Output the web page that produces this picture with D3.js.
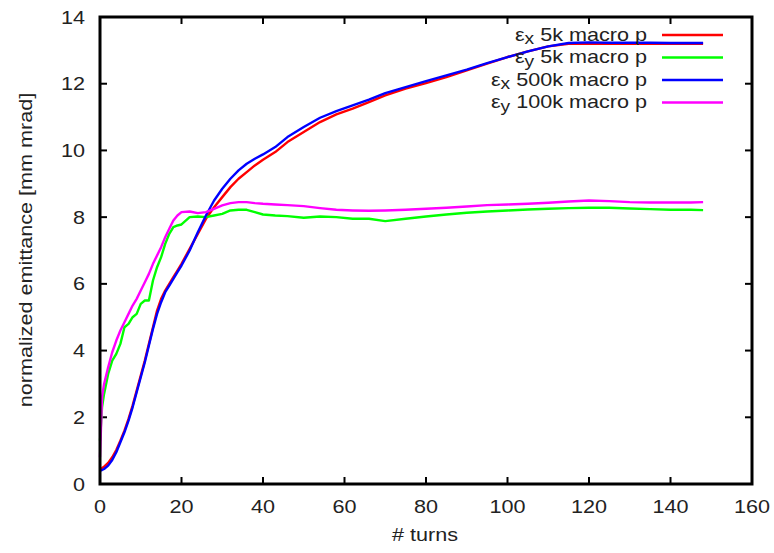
<!DOCTYPE html>
<html><head><meta charset="utf-8">
<script src="https://cdn.jsdelivr.net/npm/d3@7"></script>
<style>body{margin:0;background:#fff}svg{display:block}text{font-family:"Liberation Sans",Arial,sans-serif;fill:#222}</style>
</head><body><svg id="c" width="774" height="553"></svg>
<script>
const turns = [0,0.5,1,2,3,4,5,6,7,8,9,10,11,12,13,14,15,16,17,18,19,20,22,24,26,28,30,32,34,36,38,40,43,46,50,54,58,62,66,70,75,80,85,90,95,100,105,110,115,120,125,130,135,140,145,148];
const epsX5k = [0.45,0.48,0.52,0.63,0.8,1.02,1.3,1.6,1.95,2.35,2.8,3.25,3.7,4.2,4.7,5.2,5.55,5.8,6.0,6.2,6.4,6.6,7.05,7.5,7.95,8.3,8.6,8.9,9.15,9.35,9.55,9.72,9.95,10.25,10.55,10.85,11.08,11.25,11.45,11.65,11.85,12.02,12.2,12.4,12.6,12.8,12.97,13.12,13.2,13.2,13.2,13.2,13.2,13.2,13.2,13.2];
const epsY5k = [1.3,2.3,2.7,3.3,3.7,3.9,4.2,4.7,4.8,5.0,5.1,5.4,5.5,5.5,6.1,6.5,6.8,7.2,7.5,7.7,7.75,7.78,8.0,8.02,8.0,8.05,8.1,8.2,8.22,8.22,8.15,8.08,8.05,8.03,7.98,8.02,8.0,7.95,7.95,7.88,7.95,8.02,8.08,8.13,8.17,8.2,8.23,8.25,8.27,8.28,8.28,8.26,8.24,8.22,8.22,8.21];
const epsX500k = [0.4,0.42,0.45,0.55,0.72,0.95,1.25,1.55,1.9,2.3,2.75,3.2,3.65,4.15,4.65,5.1,5.45,5.75,5.95,6.15,6.35,6.55,7.0,7.55,8.05,8.5,8.85,9.15,9.4,9.6,9.75,9.88,10.1,10.4,10.7,10.98,11.18,11.35,11.52,11.72,11.9,12.08,12.25,12.42,12.62,12.8,12.97,13.12,13.22,13.24,13.23,13.23,13.23,13.22,13.22,13.22];
const epsY100k = [0.8,2.6,3.0,3.5,3.95,4.3,4.6,4.85,5.1,5.35,5.55,5.8,6.05,6.3,6.6,6.85,7.1,7.4,7.65,7.9,8.05,8.15,8.17,8.12,8.15,8.25,8.35,8.42,8.45,8.45,8.42,8.4,8.38,8.36,8.33,8.27,8.22,8.2,8.19,8.2,8.22,8.25,8.28,8.32,8.36,8.38,8.4,8.43,8.47,8.5,8.48,8.45,8.44,8.44,8.44,8.45];
const xTicks = [0,20,40,60,80,100,120,140,160];
const yTicks = [0,2,4,6,8,10,12,14];
const seriesNames = [["x"," 5k macro p"],["y"," 5k macro p"],["x"," 500k macro p"],["y"," 100k macro p"]];
const seriesColors = ["#ff0000","#00ff00","#0000ff","#ff00ff"];
const seriesData = [epsX5k, epsY5k, epsX500k, epsY100k];

const svg = d3.select("#c");
const L=100,R=752,T=17,B=484;
const FS=18, SX=1.2;
const x = d3.scaleLinear().domain([0,160]).range([L,R]);
const y = d3.scaleLinear().domain([0,14]).range([B,T]);
const tl=7;
function label(px,py,anchor,str,rot){
  const gg = svg.append("g").attr("transform",`translate(${px},${py})`+(rot?` rotate(${rot})`:"")+` scale(${SX},1)`);
  return gg.append("text").attr("text-anchor",anchor).attr("font-size",FS).text(str);
}
const g = svg.append("g");
xTicks.forEach(t=>{
  g.append("line").attr("x1",x(t)).attr("x2",x(t)).attr("y1",B).attr("y2",B-tl).attr("stroke","#000").attr("stroke-width",2);
  g.append("line").attr("x1",x(t)).attr("x2",x(t)).attr("y1",T).attr("y2",T+tl).attr("stroke","#000").attr("stroke-width",2);
  label(x(t),B+29,"middle",t);
});
yTicks.forEach(t=>{
  g.append("line").attr("x1",L).attr("x2",L+tl).attr("y1",y(t)).attr("y2",y(t)).attr("stroke","#000").attr("stroke-width",2);
  g.append("line").attr("x1",R).attr("x2",R-tl).attr("y1",y(t)).attr("y2",y(t)).attr("stroke","#000").attr("stroke-width",2);
  label(L-15,y(t)+6.5,"end",t);
});
const line = d3.line().x((d,i)=>x(turns[i])).y(d=>y(d));
seriesData.forEach((s,k)=>{
  svg.append("path").datum(s).attr("d",line).attr("fill","none").attr("stroke",seriesColors[k]).attr("stroke-width",2.4).attr("stroke-linejoin","round");
});
svg.append("rect").attr("x",L).attr("y",T).attr("width",R-L).attr("height",B-T).attr("fill","none").attr("stroke","#000").attr("stroke-width",3);
seriesNames.forEach((n,k)=>{
  const yy = 35 + k*22.5;
  const t = label(647,yy+5.5,"end","");
  t.append("tspan").text("ε");
  t.append("tspan").attr("dy",3.5).attr("font-size",16).text(n[0]);
  t.append("tspan").attr("dy",-3.5).text(n[1]);
  svg.append("line").attr("x1",662).attr("x2",723).attr("y1",yy).attr("y2",yy).attr("stroke",seriesColors[k]).attr("stroke-width",2.4);
});
label((L+R)/2-1,541,"middle","# turns");
label(32,250,"middle","normalized emittance [mm mrad]",-90);
</script></body></html>
